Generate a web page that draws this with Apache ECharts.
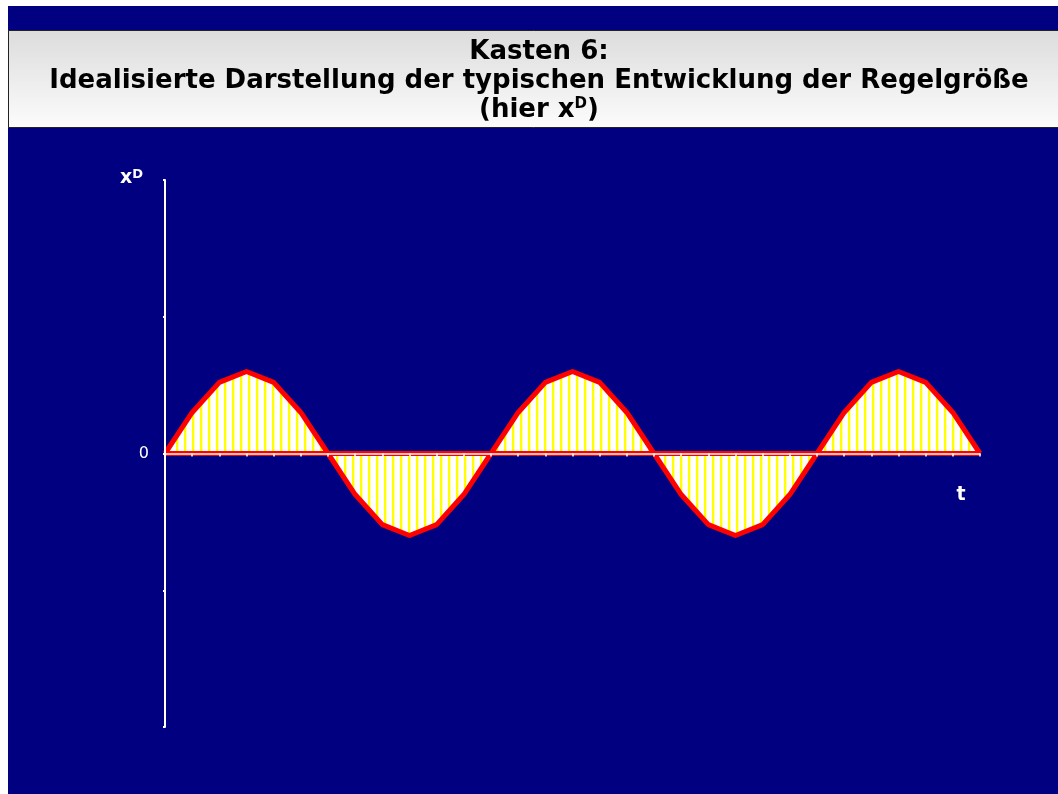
<!DOCTYPE html>
<html>
<head>
<meta charset="utf-8">
<script src="https://cdn.jsdelivr.net/npm/echarts@6/dist/echarts.min.js"></script>
<style>
html,body{margin:0;padding:0;background:#fff;}
#c{width:1058px;height:794px;}
</style>
</head>
<body>
<div id="c"></div>
<script>
// ---- data ----
var categories = ['1','2','3','4','5','6','7','8','9','10','11','12','13','14','15','16','17','18','19','20','21','22','23','24','25','26','27','28','29','30','31'];
var values = [0, 0.15, 0.26, 0.3, 0.26, 0.15, 0, -0.15, -0.26, -0.3, -0.26, -0.15,
              0, 0.15, 0.26, 0.3, 0.26, 0.15, 0, -0.15, -0.26, -0.3, -0.26, -0.15,
              0, 0.15, 0.26, 0.3, 0.26, 0.15, 0];
var zeroLine = [0,0,0,0,0,0,0,0,0,0,0,0,0,0,0,0,0,0,0,0,0,0,0,0,0,0,0,0,0,0,0];
var yTickLabels = {'0': '0'};
var titleLines = ['Kasten 6:', 'Idealisierte Darstellung der typischen Entwicklung der Regelgröße'];

// stripe pattern
var pc = document.createElement('canvas');
pc.width = 8; pc.height = 8;
var pctx = pc.getContext('2d');
pctx.fillStyle = '#ffffff'; pctx.fillRect(0,0,8,8);
pctx.fillStyle = '#ffff00'; pctx.fillRect(0,0,2,8);
pctx.fillStyle = '#ffffa8'; pctx.fillRect(2,0,1,8);

var chart = echarts.init(document.getElementById('c'), null, {renderer:'canvas'});
var FONT = '"DejaVu Sans", Verdana, sans-serif';
chart.setOption({
  backgroundColor: '#ffffff',
  animation: false,
  graphic: [
    {type:'rect', z:-10, silent:true, shape:{x:8,y:6,width:1050,height:788}, style:{fill:'#000080'}},
    {type:'rect', z:-9, silent:true, shape:{x:8.5,y:30.5,width:1050,height:97},
      style:{fill:new echarts.graphic.LinearGradient(0,0,0,1,[{offset:0,color:'#dcdcdc'},{offset:1,color:'#fcfcfc'}]), stroke:'#222', lineWidth:1}},
    {type:'text', z:10, style:{text:titleLines[0], x:539, y:52, align:'center', verticalAlign:'middle', fill:'#000', font:'bold 26px ' + FONT}},
    {type:'text', z:10, style:{text:titleLines[1], x:539, y:81, align:'center', verticalAlign:'middle', fill:'#000', font:'bold 26px ' + FONT}},
    {type:'text', z:10, style:{text:'(hier x{sup|D})', x:539, y:110, align:'center', verticalAlign:'middle', fill:'#000', font:'bold 26px ' + FONT,
      rich:{sup:{fontSize:15, fontWeight:'bold', fontFamily:'DejaVu Sans', verticalAlign:'top', lineHeight:26, fill:'#000'}}}},
    {type:'text', z:10, style:{text:'x{sup|D}', x:120, y:178, align:'left', verticalAlign:'middle', fill:'#fff', font:'bold 19px ' + FONT,
      rich:{sup:{fontSize:13, fontWeight:'bold', fontFamily:'DejaVu Sans', verticalAlign:'top', lineHeight:20, fill:'#fff'}}}},
    {type:'text', z:10, style:{text:'t', x:961, y:495, align:'center', verticalAlign:'middle', fill:'#fff', font:'bold 19px ' + FONT}}
  ],
  grid: {left:165, right:78, top:180, bottom:67},
  xAxis: {
    type:'category', data:categories, boundaryGap:false, z:5,
    axisLine:{onZero:true, lineStyle:{color:'#ffffff', width:1.5}},
    axisTick:{show:true, alignWithLabel:true, length:3, inside:false, lineStyle:{color:'#ffffff', width:1.5}},
    axisLabel:{show:false},
    splitLine:{show:false}
  },
  yAxis: {
    type:'value', min:-1, max:1, interval:0.5, z:5,
    axisLine:{show:true, lineStyle:{color:'#ffffff', width:2}},
    axisTick:{show:true, length:2, lineStyle:{color:'#ffffff', width:2}},
    axisLabel:{show:true, color:'#ffffff', fontFamily:'DejaVu Sans', fontSize:16, margin:16,
      formatter:function(v){ return yTickLabels[String(v)] || ''; }},
    splitLine:{show:false}
  },
  series: [
    {type:'line', data:values, symbol:'none', z:3,
      lineStyle:{color:'#ff0000', width:5, join:'round'},
      areaStyle:{color:{image:pc, repeat:'repeat'}, opacity:1, origin:0}},
    {type:'line', data:zeroLine, symbol:'none', z:4, silent:true,
      lineStyle:{color:'#ff0000', width:5}}
  ]
});
</script>
</body>
</html>
